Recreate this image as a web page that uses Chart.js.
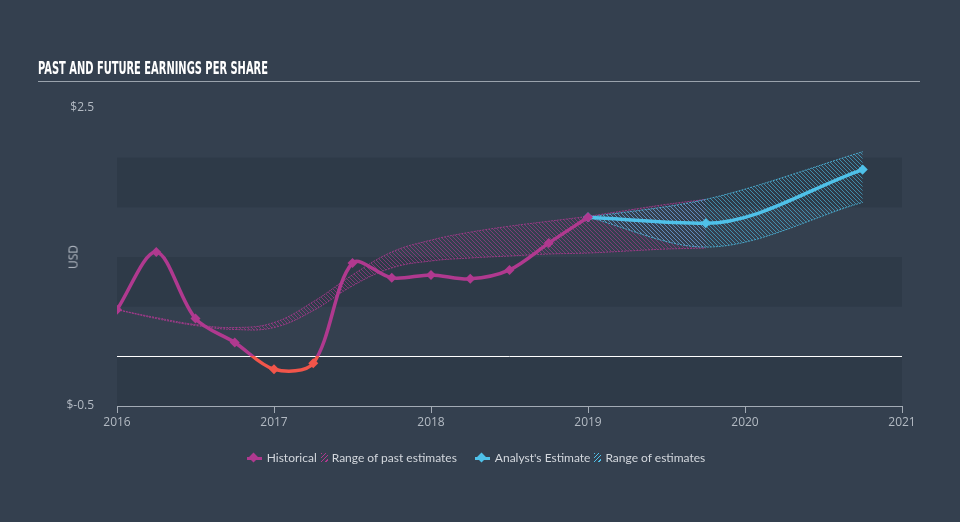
<!DOCTYPE html>
<html lang="en">
<head>
  <meta charset="UTF-8">
  <title>Past and Future Earnings Per Share</title>
  <script src="https://cdn.jsdelivr.net/npm/chart.js"></script>
  <style>
    html, body { margin: 0; padding: 0; background: #34404f; }
    #wrap { position: relative; width: 960px; height: 522px; overflow: hidden; }
    #eps { position: absolute; left: 0; top: 0; }
    #title { position: absolute; left: 38px; top: 59px; white-space: nowrap; color: #ffffff;
      font: bold 18px 'DejaVu Sans Condensed', 'DejaVu Sans', sans-serif; line-height: 18px;
      transform-origin: left top; }
    #rule { position: absolute; left: 38px; top: 81px; width: 882px; height: 1px; background: #9aa3ad; }
    #usd { position: absolute; left: 73px; top: 257px; color: #b3bac3; font: 12px 'Open Sans', sans-serif;
      transform: translate(-50%, -50%) rotate(-90deg); }
    #legend { position: absolute; left: -4px; width: 960px; top: 449px; text-align: center;
      font: 12px Lato, sans-serif; color: #d3d7dd; }
    #legend span { display: inline-block; vertical-align: middle; }
    .ic { position: relative; width: 15px; height: 10px; margin-right: 5px; }
    .ic:before { content: ''; position: absolute; left: 0; right: 0; top: 4px; height: 3px; }
    .ic:after { content: ''; position: absolute; left: 3px; top: 1px; width: 7px; height: 7px; transform: rotate(45deg); }
    .ic.hist:before, .ic.hist:after { background: #b0398f; }
    .ic.est:before, .ic.est:after { background: #4fc1e9; }
    .hatch { width: 7px; height: 9px; margin: 0 4px; }
    .hatch.hist { background: repeating-linear-gradient(135deg, #b0398f 0 1px, transparent 1px 3px); }
    .hatch.est { background: repeating-linear-gradient(135deg, #4fc1e9 0 1px, transparent 1px 3px); }
    .gap { width: 18px; }
  </style>
</head>
<body>
<div id="wrap">
  <canvas id="eps" width="960" height="522"></canvas>
  <div id="title"><span id="titleText">PAST AND FUTURE EARNINGS PER SHARE</span></div>
  <div id="rule"></div>
  <div id="usd">USD</div>
  <div id="legend">
    <span class="ic hist"></span><span>Historical</span><span class="hatch hist"></span><span>Range of past estimates</span><span class="gap"></span><span class="ic est"></span><span>Analyst's Estimate</span><span class="hatch est"></span><span>Range of estimates</span>
  </div>
</div>

<script>
  // historical EPS (quarterly, USD)
  const histYears = [2016, 2016.25, 2016.5, 2016.75, 2017, 2017.25, 2017.5, 2017.75, 2018, 2018.25, 2018.5, 2018.75, 2019];
  const histEps = [0.47, 1.05, 0.38, 0.14, -0.13, -0.07, 0.94, 0.79, 0.82, 0.78, 0.87, 1.14, 1.40];

  // analyst estimate
  const estYears = [2019, 2019.75, 2020.75];
  const estEps = [1.40, 1.34, 1.88];

  // range of past estimates
  const pastYears = [2016, 2016.25, 2016.5, 2016.75, 2017, 2017.25, 2017.5, 2017.75, 2018, 2018.25, 2018.5, 2018.75, 2019, 2019.25, 2019.5, 2019.75];
  const pastHigh = [0.47, 0.39, 0.32, 0.29, 0.34, 0.55, 0.82, 1.05, 1.17, 1.25, 1.31, 1.36, 1.41, 1.47, 1.53, 1.58];
  const pastLow = [0.47, 0.38, 0.31, 0.27, 0.29, 0.46, 0.71, 0.89, 0.96, 0.99, 1.01, 1.03, 1.04, 1.06, 1.08, 1.09];

  // range of future estimates
  const futYears = [2019, 2019.75, 2020.75];
  const futHigh = [1.40, 1.58, 2.06];
  const futLow = [1.40, 1.10, 1.55];

  const yTickLabels = { '2.5': '$2.5', '-0.5': '$-0.5' };

  const MAGENTA = '#b0398f';
  const RED = '#f2554a';
  const BLUE = '#4fc1e9';
  const BAND = '#2e3a48';
  const AXIS = '#a3abb5';
  const TICK = '#b3bac3';

  const pts = (xs, ys) => xs.map((x, i) => ({ x, y: ys[i] }));

  function hatch(color) {
    const c = document.createElement('canvas');
    c.width = 4; c.height = 4;
    const g = c.getContext('2d');
    g.strokeStyle = color;
    g.lineWidth = 1;
    g.beginPath();
    g.moveTo(0, 0); g.lineTo(4, 4);
    g.moveTo(-1, 3); g.lineTo(1, 5);
    g.moveTo(3, -1); g.lineTo(5, 1);
    g.stroke();
    return g.createPattern(c, 'repeat');
  }

  function histColor(ctx) {
    const chart = ctx.chart;
    const area = chart.chartArea;
    if (!area) return MAGENTA;
    const y0 = chart.scales.y.getPixelForValue(0);
    const s = Math.min(1, Math.max(0, (y0 - area.top) / (area.bottom - area.top)));
    const g = chart.ctx.createLinearGradient(0, area.top, 0, area.bottom);
    g.addColorStop(0, MAGENTA); g.addColorStop(s, MAGENTA);
    g.addColorStop(s, RED); g.addColorStop(1, RED);
    return g;
  }
  const histPoint = ctx => (ctx.raw && ctx.raw.y < 0 ? RED : MAGENTA);

  // alternating horizontal bands behind the plot
  const bands = {
    id: 'bands',
    beforeDatasetsDraw(chart) {
      const { ctx, chartArea, scales } = chart;
      ctx.save();
      ctx.fillStyle = BAND;
      [[1.5, 2.0], [0.5, 1.0], [-0.5, 0]].forEach(([lo, hi]) => {
        const top = scales.y.getPixelForValue(hi);
        const bot = scales.y.getPixelForValue(lo);
        ctx.fillRect(chartArea.left, top, chartArea.right - chartArea.left, bot - top);
      });
      // zero line on top of bands
      const z = Math.round(scales.y.getPixelForValue(0)) + 0.5;
      ctx.strokeStyle = '#ffffff';
      ctx.lineWidth = 1;
      ctx.beginPath();
      ctx.moveTo(chartArea.left, z);
      ctx.lineTo(chartArea.right, z);
      ctx.stroke();
      ctx.restore();
    }
  };

  new Chart(document.getElementById('eps'), {
    type: 'line',
    data: {
      datasets: [
        {
          label: 'Historical', data: pts(histYears, histEps), order: 0,
          borderColor: histColor, borderWidth: 3.5, tension: 0.32,
          pointStyle: 'rectRot', pointRadius: 5,
          pointBackgroundColor: histPoint, pointBorderColor: histPoint, pointBorderWidth: 0
        },
        {
          label: "Analyst's Estimate", data: pts(estYears, estEps), order: 1,
          borderColor: BLUE, borderWidth: 3.5, cubicInterpolationMode: 'monotone',
          pointStyle: 'rectRot', pointRadius: 5,
          pointBackgroundColor: BLUE, pointBorderColor: BLUE, pointBorderWidth: 0
        },
        {
          label: 'Past high', data: pts(pastYears, pastHigh), order: 3,
          borderColor: 'rgba(176,57,146,0.8)', borderWidth: 1, borderDash: [2, 1],
          tension: 0.4, pointRadius: 0, fill: false
        },
        {
          label: 'Past low', data: pts(pastYears, pastLow), order: 3,
          borderColor: 'rgba(176,57,146,0.8)', borderWidth: 1, borderDash: [2, 1],
          tension: 0.4, pointRadius: 0, fill: '-1', backgroundColor: hatch('rgba(176,57,146,0.6)')
        },
        {
          label: 'Future high', data: pts(futYears, futHigh), order: 2,
          borderColor: 'rgba(79,193,233,0.8)', borderWidth: 1, borderDash: [2, 1],
          cubicInterpolationMode: 'monotone', pointRadius: 0, fill: false
        },
        {
          label: 'Future low', data: pts(futYears, futLow), order: 2,
          borderColor: 'rgba(79,193,233,0.8)', borderWidth: 1, borderDash: [2, 1],
          cubicInterpolationMode: 'monotone', pointRadius: 0, fill: '-1', backgroundColor: hatch('rgba(79,193,233,0.6)')
        }
      ]
    },
    options: {
      responsive: false,
      animation: false,
      layout: { padding: { left: 0, right: 58, top: 108, bottom: 0 } },
      plugins: { legend: { display: false }, tooltip: { enabled: false } },
      scales: {
        x: {
          type: 'linear', min: 2016, max: 2021,
          afterFit: s => { s.height = 116; },
          grid: { drawOnChartArea: false, drawTicks: true, tickLength: 7, color: AXIS },
          border: { display: true, color: AXIS },
          ticks: { stepSize: 1, padding: 2, color: TICK, font: { size: 12, family: "'Open Sans', sans-serif" },
            callback: v => String(v) }
        },
        y: {
          min: -0.5, max: 2.5,
          afterFit: s => { s.width = 117; },
          grid: { display: false },
          border: { display: false },
          ticks: { stepSize: 0.5, padding: 15, color: TICK, font: { size: 12, family: "'Open Sans', sans-serif" },
            callback: v => yTickLabels[String(v)] || '' }
        }
      }
    },
    plugins: [bands]
  });

  // squeeze the title into its condensed width
  const tt = document.getElementById('titleText');
  document.getElementById('title').style.transform = 'scaleX(' + (230 / tt.offsetWidth) + ')';
</script>
</body>
</html>
